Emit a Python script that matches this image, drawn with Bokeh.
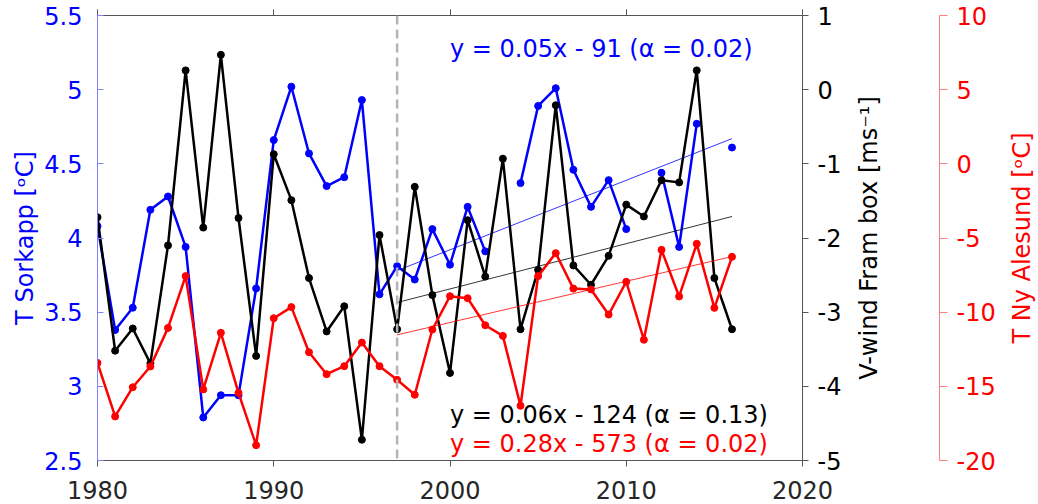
import math
import numpy as np
from bokeh.plotting import figure
from bokeh.layouts import row
from bokeh.models import Range1d, LinearAxis, FixedTicker, Span, ColumnDataSource
from bokeh.embed import file_html
from bokeh.resources import INLINE
from bokeh.core.properties import value

nan = float("nan")

years = list(range(1980, 2017))
t_sorkapp = [4.08, 3.38, 3.53, 4.19, 4.28, 3.94, 2.79, 2.94, 2.94, 3.66,
             4.66, 5.02, 4.57, 4.35, 4.41, 4.93, 3.62, 3.81, 3.72, 4.06,
             3.82, 4.21, 3.91, nan, 4.37, 4.89, 5.01, 4.46, 4.21, 4.39,
             4.06, nan, 4.44, 3.94, 4.77, nan, 4.61]
v_wind = [-1.72, -3.52, -3.22, -3.69, -2.10, 0.26, -1.86, 0.47, -1.73, -3.59,
          -0.87, -1.49, -2.54, -3.26, -2.92, -4.72, -1.96, -3.23, -1.31, -2.77,
          -3.82, -1.76, -2.52, -0.93, -3.23, -2.43, -0.21, -2.37, -2.63, -2.24,
          -1.55, -1.71, -1.22, -1.25, 0.26, -2.54, -3.23]
t_ny = [-13.42, -17.03, -15.06, -13.66, -11.06, -7.57, -15.21, -11.39, -15.44, -18.97,
        -10.41, -9.66, -12.70, -14.18, -13.64, -12.05, -13.64, -14.56, -15.57, -11.17,
        -8.92, -9.06, -10.88, -11.60, -16.31, -7.57, -6.02, -8.41, -8.47, -10.16,
        -7.95, -11.86, -5.80, -8.94, -5.39, -9.71, -6.27]

# trend lines (fitted values at start/end of period)
trend_years = [1997, 2016]
sorkapp_trend = [3.78, 4.67]
wind_trend = [-2.87, -1.71]
ny_trend = [-11.53, -6.25]
break_year = 1997

trend_texts = ["y = 0.05x - 91 (\u03b1 = 0.02)",
               "y = 0.06x - 124 (\u03b1 = 0.13)",
               "y = 0.28x - 573 (\u03b1 = 0.02)"]

x_ticks = [1980, 1990, 2000, 2010, 2020]
sorkapp_ticks = [2.5, 3, 3.5, 4, 4.5, 5, 5.5]
wind_ticks = [-5, -4, -3, -2, -1, 0, 1]
ny_ticks = [-20, -15, -10, -5, 0, 5, 10]

left_title = "T Sorkapp [\u1d52C]"
wind_title = "V-wind Fram box [ms\u207b\u00b9]"
ny_title = "T Ny Alesund [\u1d52C]"

BLUE = "#0000ff"
BLACK = "#000000"
RED = "#ff0000"
FONT = "DejaVu Sans"
FS = "24px"
H = 504
TOP = 15
BOTTOM = 44


def fmt(ticks):
    return {v: f"{v:g}" for v in ticks}


def bare(fig):
    fig.grid.visible = False
    fig.outline_line_color = None
    fig.background_fill_color = "white"
    fig.border_fill_color = "white"


def title_axis(y_range_name, text, color, standoff):
    ax = LinearAxis(y_range_name=y_range_name, ticker=FixedTicker(ticks=[]))
    ax.axis_line_color = None
    ax.major_tick_line_color = None
    ax.minor_tick_line_color = None
    ax.major_tick_in = 0
    ax.major_tick_out = 0
    ax.major_label_standoff = 0
    ax.major_label_text_font_size = "1px"
    ax.major_label_text_color = None
    ax.axis_label = text
    ax.axis_label_text_font = FONT
    ax.axis_label_text_font_size = FS
    ax.axis_label_text_font_style = "normal"
    ax.axis_label_text_color = color
    ax.axis_label_standoff = standoff
    return ax


# ---------------- main panel ----------------
fig = figure(width=845, height=H, output_backend="svg", toolbar_location=None,
             x_range=Range1d(1980, 2020), y_range=Range1d(2.5, 5.5),
             x_axis_location=None, y_axis_location=None,
             min_border_left=97, min_border_right=43, min_border_top=TOP,
             min_border_bottom=BOTTOM)
fig.extra_y_ranges = {"wind": Range1d(-5, 1), "ny": Range1d(-20, 10)}
bare(fig)

# bottom axis
xb = LinearAxis(ticker=FixedTicker(ticks=x_ticks), major_label_overrides=fmt(x_ticks))
xb.axis_line_color = "#555555"
xb.major_tick_line_color = "#555555"
xb.major_tick_in = 0
xb.major_tick_out = 6
xb.minor_tick_line_color = None
xb.major_label_text_font = FONT
xb.major_label_text_font_size = FS
xb.major_label_text_color = "#262626"
xb.major_label_standoff = 14
fig.add_layout(xb, "below")

# top axis (frame line with ticks only)
xt = LinearAxis(ticker=FixedTicker(ticks=x_ticks))
xt.axis_line_color = "#555555"
xt.major_tick_line_color = "#555555"
xt.major_tick_in = 0
xt.major_tick_out = 6
xt.minor_tick_line_color = None
xt.major_label_text_font_size = "1px"
xt.major_label_text_color = None
xt.major_label_standoff = 0
fig.add_layout(xt, "above")

# left axis (T Sorkapp)
yl = LinearAxis(ticker=FixedTicker(ticks=sorkapp_ticks), major_label_overrides=fmt(sorkapp_ticks))
yl.axis_line_color = "#8080ff"
yl.major_tick_line_color = "#8080ff"
yl.major_tick_in = 6
yl.major_tick_out = 0
yl.minor_tick_line_color = None
yl.major_label_text_font = FONT
yl.major_label_text_font_size = FS
yl.major_label_text_color = BLUE
yl.major_label_standoff = 15
yl.axis_label = left_title
yl.axis_label_text_font = FONT
yl.axis_label_text_font_size = FS
yl.axis_label_text_font_style = "normal"
yl.axis_label_text_color = BLUE
yl.axis_label_standoff = 2
fig.add_layout(yl, "left")

# right axis (V-wind) ticks and labels
yw = LinearAxis(y_range_name="wind", ticker=FixedTicker(ticks=wind_ticks),
                major_label_overrides=fmt(wind_ticks))
yw.axis_line_color = "#555555"
yw.major_tick_line_color = "#555555"
yw.major_tick_in = 0
yw.major_tick_out = 6
yw.minor_tick_line_color = None
yw.major_label_text_font = FONT
yw.major_label_text_font_size = FS
yw.major_label_text_color = BLACK
yw.major_label_standoff = 9
fig.add_layout(yw, "right")

# break line
fig.add_layout(Span(location=break_year, dimension="height", line_color="#b4b4b4",
                    line_width=2.5, line_dash="9 5"))

src = ColumnDataSource(dict(year=years, sork=t_sorkapp, wind=v_wind, ny=t_ny))
tsrc = ColumnDataSource(dict(year=trend_years, sork=sorkapp_trend, wind=wind_trend, ny=ny_trend))

# T Sorkapp
fig.line("year", "sork", source=src, line_color=BLUE, line_width=2.5)
fig.scatter("year", "sork", source=src, size=7, fill_color=BLUE, line_color=BLUE)
fig.line("year", "sork", source=tsrc, line_color=BLUE, line_width=0.8)

# V-wind
fig.line("year", "wind", source=src, y_range_name="wind", line_color=BLACK, line_width=2.5)
fig.scatter("year", "wind", source=src, y_range_name="wind", size=7, fill_color=BLACK, line_color=BLACK)
fig.line("year", "wind", source=tsrc, y_range_name="wind", line_color=BLACK, line_width=0.8)

# T Ny Alesund
fig.line("year", "ny", source=src, y_range_name="ny", line_color=RED, line_width=2.5)
fig.scatter("year", "ny", source=src, y_range_name="ny", size=7, fill_color=RED, line_color=RED)
fig.line("year", "ny", source=tsrc, y_range_name="ny", line_color=RED, line_width=0.8)

# trend equations
fig.text(x=[2000], y=[5.277], text=[trend_texts[0]], text_color=BLUE,
         text_font=value(FONT), text_font_size=FS, text_align="left", text_baseline="middle")
fig.text(x=[2000], y=[-4.393], text=[trend_texts[1]], y_range_name="wind", text_color=BLACK,
         text_font=value(FONT), text_font_size=FS, text_align="left", text_baseline="middle")
fig.text(x=[2000], y=[-18.86], text=[trend_texts[2]], y_range_name="ny", text_color=RED,
         text_font=value(FONT), text_font_size=FS, text_align="left", text_baseline="middle")

# ---------------- V-wind title + T Ny Alesund axis ----------------
fig_b = figure(width=153, height=H, output_backend="svg", toolbar_location=None,
               x_range=Range1d(0, 1), y_range=Range1d(-20, 10),
               x_axis_location=None, y_axis_location=None,
               min_border_left=37, min_border_right=56, min_border_top=TOP,
               min_border_bottom=BOTTOM)
bare(fig_b)
fig_b.add_layout(title_axis("default", wind_title, BLACK, 0), "left")

yn = LinearAxis(ticker=FixedTicker(ticks=ny_ticks), major_label_overrides=fmt(ny_ticks))
yn.axis_line_color = "#ff8080"
yn.major_tick_line_color = "#ff8080"
yn.major_tick_in = 0
yn.major_tick_out = 8
yn.minor_tick_line_color = None
yn.major_label_text_font = FONT
yn.major_label_text_font_size = FS
yn.major_label_text_color = RED
yn.major_label_standoff = 9
fig_b.add_layout(yn, "right")

# ---------------- T Ny Alesund title ----------------
fig_c = figure(width=40, height=H, output_backend="svg", toolbar_location=None,
               x_range=Range1d(0, 1), y_range=Range1d(-20, 10),
               x_axis_location=None, y_axis_location=None,
               min_border_left=37, min_border_right=0, min_border_top=TOP,
               min_border_bottom=BOTTOM)
bare(fig_c)
fig_c.add_layout(title_axis("default", ny_title, RED, 0), "left")

p = row(fig, fig_b, fig_c, spacing=0)

open("out.html", "w").write(file_html(p, INLINE))
